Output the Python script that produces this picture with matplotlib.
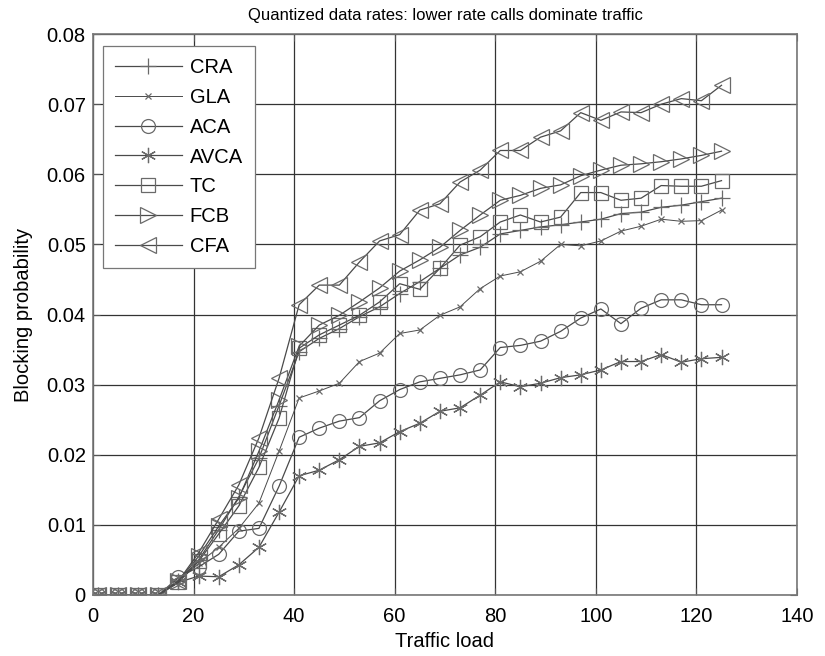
import numpy as np
import matplotlib
matplotlib.use('Agg')
from matplotlib import pyplot as plt

plt.rcParams['font.family'] = ['Liberation Sans', 'DejaVu Sans']

# traffic load points
load = np.arange(1, 126, 4)

cra = [0, 0, 0, 0, 0.0020, 0.0050, 0.0093, 0.0140, 0.0195, 0.0270, 0.0347, 0.0366,
       0.0380, 0.0397, 0.0411, 0.0430, 0.0447, 0.0466, 0.0485, 0.0496, 0.0515, 0.0520,
       0.0525, 0.0528, 0.0532, 0.0536, 0.0544, 0.0546, 0.0553, 0.0556, 0.0561, 0.0566]
gla = [0, 0, 0, 0, 0.0020, 0.0045, 0.0068, 0.0095, 0.0131, 0.0205, 0.0281, 0.0291,
       0.0302, 0.0333, 0.0345, 0.0373, 0.0378, 0.0399, 0.0411, 0.0437, 0.0455, 0.0461,
       0.0476, 0.0500, 0.0498, 0.0505, 0.0519, 0.0526, 0.0536, 0.0533, 0.0534, 0.0549]
aca = [0, 0, 0, 0, 0.0025, 0.0040, 0.0058, 0.0091, 0.0095, 0.0155, 0.0225, 0.0238,
       0.0248, 0.0253, 0.0277, 0.0293, 0.0304, 0.0309, 0.0314, 0.0321, 0.0353, 0.0356,
       0.0362, 0.0376, 0.0395, 0.0408, 0.0387, 0.0409, 0.0421, 0.0421, 0.0414, 0.0414]
avca = [0, 0, 0, 0, 0.0018, 0.0027, 0.0026, 0.0043, 0.0068, 0.0118, 0.0170, 0.0178,
        0.0193, 0.0212, 0.0217, 0.0233, 0.0245, 0.0262, 0.0267, 0.0285, 0.0304, 0.0297,
        0.0302, 0.0310, 0.0314, 0.0321, 0.0333, 0.0333, 0.0343, 0.0332, 0.0337, 0.0339]
tc = [0, 0, 0, 0, 0.0018, 0.0048, 0.0087, 0.0127, 0.0182, 0.0252, 0.0352, 0.0371,
      0.0385, 0.0399, 0.0418, 0.0444, 0.0436, 0.0466, 0.0499, 0.0511, 0.0532, 0.0542,
      0.0532, 0.0539, 0.0574, 0.0574, 0.0563, 0.0566, 0.0584, 0.0583, 0.0583, 0.0591]
fcb = [0, 0, 0, 0, 0.0020, 0.0055, 0.0098, 0.0138, 0.0205, 0.0278, 0.0355, 0.0385,
       0.0399, 0.0418, 0.0438, 0.0462, 0.0478, 0.0496, 0.0520, 0.0542, 0.0563, 0.0570,
       0.0580, 0.0585, 0.0598, 0.0606, 0.0613, 0.0615, 0.0618, 0.0622, 0.0627, 0.0633]
cfa = [0, 0, 0, 0, 0.0020, 0.0060, 0.0108, 0.0157, 0.0224, 0.0309, 0.0414, 0.0442,
       0.0442, 0.0475, 0.0505, 0.0514, 0.0549, 0.0558, 0.0589, 0.0606, 0.0634, 0.0634,
       0.0653, 0.0662, 0.0688, 0.0677, 0.0689, 0.0688, 0.0700, 0.0708, 0.0705, 0.0727]

names = ['CRA', 'GLA', 'ACA', 'AVCA', 'TC', 'FCB', 'CFA']
series = [cra, gla, aca, avca, tc, fcb, cfa]
# (marker, size, line width)
styles = [('+', 11, 0.9), ('x', 5, 0.7), ('o', 10, 0.9), ((6, 2, 0), 11, 0.9),
          ('s', 10, 0.9), ('>', 11, 0.9), ('<', 11, 0.9)]

fig = plt.figure(figsize=(8.25, 6.56), dpi=100)
ax = fig.add_axes([0.1127, 0.093, 0.8533, 0.855])

for name, vals, (mk, ms, lw) in zip(names, series, styles):
    ax.plot(load, vals, color='#4a4a4a', lw=lw, marker=mk, ms=ms,
            mfc='none', mec='#6a6a6a', mew=0.9, label=name)

ax.set_xlim(0, 140)
ax.set_ylim(0, 0.08)
ax.set_xticks(np.arange(0, 141, 20))
ax.set_yticks(np.arange(0, 0.081, 0.01))
ax.set_yticklabels(['0', '0.01', '0.02', '0.03', '0.04', '0.05', '0.06', '0.07', '0.08'])
ax.grid(True, color='#333333', lw=0.9)
ax.set_axisbelow(True)
ax.tick_params(direction='in', top=True, right=True, labelsize=14.5, length=5,
               color='#555555')
ax.tick_params(axis='x', pad=8.5)
ax.tick_params(axis='y', pad=5.2)
for sp in ax.spines.values():
    sp.set_color('#777777')
    sp.set_linewidth(1.2)

ax.set_xlabel('Traffic load', fontsize=14.5, labelpad=4.5)
ax.set_ylabel('Blocking probability', fontsize=14.5, labelpad=10)
ax.set_title('Quantized data rates: lower rate calls dominate traffic', fontsize=12, pad=10.5)

leg = ax.legend(loc='upper left', bbox_to_anchor=(0.0142, 0.9786), borderaxespad=0,
                fontsize=14.5, handlelength=3.3, handletextpad=0.4, fancybox=False,
                framealpha=1, borderpad=0.6, labelspacing=0.535, edgecolor='#777777')
leg.get_frame().set_linewidth(0.9)

fig.savefig('out.png', dpi=100)
